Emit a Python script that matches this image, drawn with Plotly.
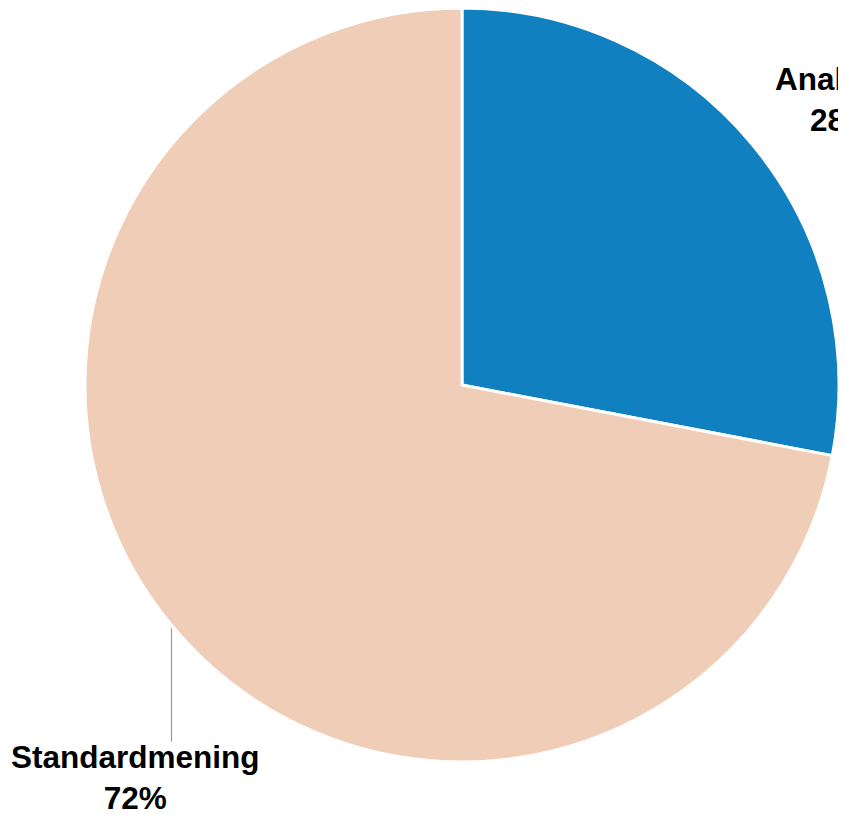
import math
import plotly.graph_objects as go

labels = ["Analyser", "Standardmening"]
values = [28, 72]
colors = ["#1080c1", "#f0cdb6"]

OFF = 8  # page body margin
W, H = 846 - OFF, 814 - OFF
CX, CY, R = 462 - OFF, 385 - OFF, 377

fig = go.Figure(go.Pie(
    labels=labels,
    values=values,
    sort=False,
    direction="clockwise",
    rotation=0,
    marker=dict(colors=colors, line=dict(color="#ffffff", width=3)),
    textinfo="none",
    hoverinfo="label+percent",
    domain=dict(x=[(CX - R) / W, min(1, (CX + R) / W)],
                y=[max(0, 1 - (CY + R) / H), min(1, 1 - (CY - R) / H)]),
    showlegend=False,
))

total = sum(values)
# (label x-shift, label y-shift (px, down positive), leader length or None)
placements = [(89, -45, None), (-36, 152, 118)]
cum = 0
for lab, val, (dx, dy, lead) in zip(labels, values, placements):
    mid = (cum + val / 2) / total * 2 * math.pi
    cum += val
    px = CX + R * math.sin(mid)
    py = CY - R * math.cos(mid)
    xp, yp = px / W, 1 - py / H
    fig.add_annotation(
        x=xp, y=yp, xref="paper", yref="paper",
        text=f"<b>{lab}</b><br><b>{round(val / total * 100)}%</b>",
        showarrow=False, xanchor="center", yanchor="middle",
        xshift=dx, yshift=-dy, align="center",
        font=dict(family="Liberation Sans, Arial", size=31.5, color="#000000"),
    )
    if lead:
        fig.add_annotation(
            x=xp, y=yp, xref="paper", yref="paper", text="",
            showarrow=True, arrowhead=0, arrowwidth=1.2, arrowcolor="#9a9a9a",
            ax=0, ay=lead, standoff=3,
        )

fig.update_layout(
    width=W, height=H,
    margin=dict(l=0, r=0, t=0, b=0),
    paper_bgcolor="#ffffff", plot_bgcolor="#ffffff",
)
fig.write_html("out.html")
